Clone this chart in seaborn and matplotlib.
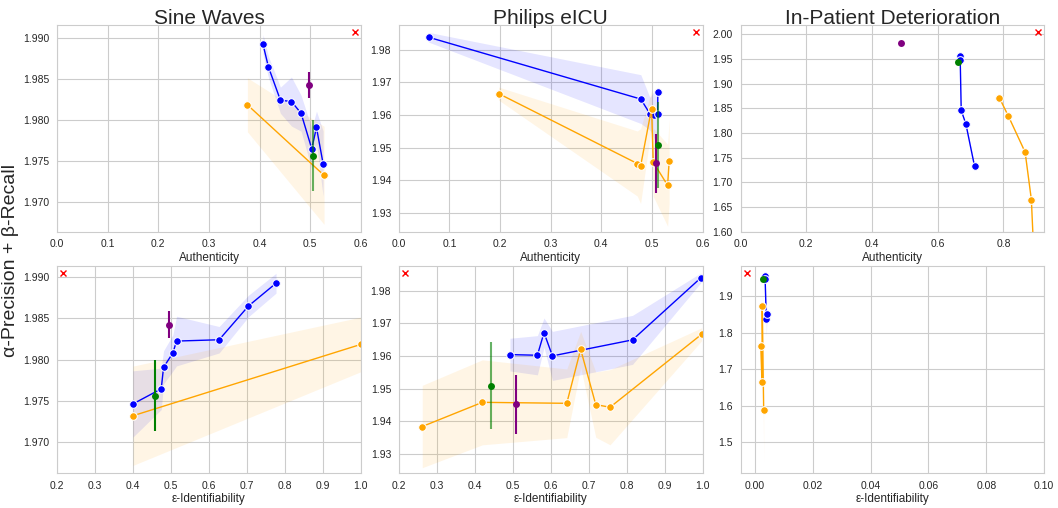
import numpy as np
import seaborn as sns
import matplotlib as mpl
import matplotlib.pyplot as plt

# ---- Sine Waves ----
sine_a_score = [1.98922, 1.98646, 1.98239, 1.98223, 1.98080, 1.97646, 1.97906, 1.97464]
sine_a_auth = [0.4067, 0.4174, 0.4411, 0.4629, 0.4819, 0.5030, 0.5123, 0.5254]
sine_a_ident = [0.7766, 0.7038, 0.6267, 0.5145, 0.5049, 0.4742, 0.4803, 0.3998]
sine_a_sd = [0.0012, 0.0013, 0.0016, 0.0030, 0.0022, 0.0025, 0.0020, 0.0040]

sine_b_score = [1.98183, 1.97321]
sine_b_auth = [0.3758, 0.5273]
sine_b_ident = [1.0, 0.3998]
sine_b_sd = [0.0033, 0.0060]

sine_green = dict(auth=0.5049, ident=0.4584, score=1.97562, err=0.0043)
sine_purple = dict(auth=0.4982, ident=0.4934, score=1.98422, err=0.0016)

# ---- Philips eICU ----
ph_a_score = [1.9839, 1.9649, 1.9604, 1.9600, 1.9602, 1.9671]
ph_a_auth = [0.059, 0.478, 0.496, 0.505, 0.5112, 0.5117]
ph_a_ident = [0.9957, 0.8155, 0.4927, 0.6046, 0.5650, 0.5824]
ph_a_sd = [0.0015, 0.0075, 0.0050, 0.0075, 0.0060, 0.0045]

ph_b_score = [1.9666, 1.9451, 1.9443, 1.9620, 1.9455, 1.9384, 1.9458]
ph_b_auth = [0.197, 0.471, 0.4776, 0.4993, 0.5026, 0.531, 0.534]
ph_b_ident = [0.9974, 0.7187, 0.7564, 0.679, 0.6423, 0.2617, 0.420]
ph_b_sd = [0.0020, 0.0100, 0.0115, 0.0055, 0.0105, 0.0126, 0.0130]

ph_green = dict(auth=0.5117, ident=0.4418, score=1.9509, err=0.0132)
ph_purple = dict(auth=0.5084, ident=0.5085, score=1.9452, err=0.0091)

# ---- In-Patient Deterioration ----
ip_a_score = [1.9562, 1.9482, 1.8459, 1.8183, 1.7331]
ip_a_auth = [0.6663, 0.6684, 0.6714, 0.6856, 0.7119]
ip_a_sd = [0.002, 0.002, 0.002, 0.002, 0.002]
ip_a_id_score = [1.956, 1.948, 1.850, 1.836]
ip_a_ident = [0.0034, 0.0036, 0.0043, 0.0040]
ip_a_id_sd = [0.004, 0.004, 0.004, 0.045]

ip_b_score = [1.8709, 1.8339, 1.7613, 1.6653, 1.588]
ip_b_auth = [0.7878, 0.8152, 0.8658, 0.8848, 0.890]
ip_b_sd = [0.002, 0.002, 0.002, 0.002, 0.002]
ip_b_id_score = [1.872, 1.763, 1.666, 1.588]
ip_b_ident = [0.0026, 0.0021, 0.0025, 0.0031]
ip_b_id_sd = [0.004, 0.004, 0.004, 0.145]

ip_green = dict(auth=0.6602, ident=0.0028, score=1.9435, id_score=1.946, err=0.002)
ip_purple = dict(auth=0.4891, score=1.9818, err=0.002)

titles = ['Sine Waves', 'Philips eICU', 'In-Patient Deterioration']


def draw_series(ax, x, y, sd, color):
    x, y, sd = np.asarray(x, float), np.asarray(y, float), np.asarray(sd, float)
    order = np.lexsort((y, x))
    x, y, sd = x[order], y[order], sd[order]
    ax.fill_between(x, y - sd, y + sd, color=color, alpha=0.1, linewidth=0)
    sns.lineplot(x=x, y=y, ax=ax, color=color, marker='o', markersize=5.5,
                 linewidth=1, estimator=None, sort=False)


def draw_point(ax, x, y, err, color, bar_alpha):
    ax.errorbar([x], [y], yerr=[err], fmt='o', color=color, ms=5, mew=0,
                elinewidth=1.5, ecolor=mpl.colors.to_rgba(color, bar_alpha), zorder=4)


def mark_ideal(ax, xfrac):
    ax.plot(xfrac, 0.965, 'x', color='red', ms=5, mew=1, transform=ax.transAxes, zorder=5)


def main():
    sns.set_style('whitegrid')
    plt.rcParams['font.family'] = ['Liberation Sans', 'DejaVu Sans']

    fig, axes = plt.subplots(2, 3, figsize=(10.58, 5.08), dpi=100)
    fig.subplots_adjust(left=0.054, right=0.987, top=0.951, bottom=0.069,
                        wspace=0.125, hspace=0.165)

    # top row: authenticity
    ax = axes[0, 0]
    draw_series(ax, sine_a_auth, sine_a_score, sine_a_sd, 'blue')
    draw_series(ax, sine_b_auth, sine_b_score, sine_b_sd, 'orange')
    draw_point(ax, sine_green['auth'], sine_green['score'], sine_green['err'], 'green', 0.6)
    draw_point(ax, sine_purple['auth'], sine_purple['score'], sine_purple['err'], 'purple', 1.0)
    ax.set_xlim(0, 0.6)
    ax.set_ylim(1.9663, 1.9916)

    ax = axes[0, 1]
    draw_series(ax, ph_a_auth, ph_a_score, ph_a_sd, 'blue')
    draw_series(ax, ph_b_auth, ph_b_score, ph_b_sd, 'orange')
    draw_point(ax, ph_green['auth'], ph_green['score'], ph_green['err'], 'green', 0.6)
    draw_point(ax, ph_purple['auth'], ph_purple['score'], ph_purple['err'], 'purple', 1.0)
    ax.set_xlim(0, 0.6)
    ax.set_ylim(1.9241, 1.9877)

    ax = axes[0, 2]
    draw_series(ax, ip_a_auth, ip_a_score, ip_a_sd, 'blue')
    draw_series(ax, ip_b_auth, ip_b_score, ip_b_sd, 'orange')
    draw_point(ax, ip_green['auth'], ip_green['score'], ip_green['err'], 'green', 0.6)
    draw_point(ax, ip_purple['auth'], ip_purple['score'], ip_purple['err'], 'purple', 1.0)
    ax.set_xlim(0, 0.924)
    ax.set_ylim(1.60, 2.019)

    # bottom row: identifiability
    ax = axes[1, 0]
    draw_series(ax, sine_a_ident, sine_a_score, sine_a_sd, 'blue')
    draw_series(ax, sine_b_ident, sine_b_score, sine_b_sd, 'orange')
    draw_point(ax, sine_green['ident'], sine_green['score'], sine_green['err'], 'green', 1.0)
    draw_point(ax, sine_purple['ident'], sine_purple['score'], sine_purple['err'], 'purple', 1.0)
    ax.set_xlim(0.2, 1.0)
    ax.set_ylim(1.9663, 1.9913)

    ax = axes[1, 1]
    draw_series(ax, ph_a_ident, ph_a_score, ph_a_sd, 'blue')
    draw_series(ax, ph_b_ident, ph_b_score, ph_b_sd, 'orange')
    draw_point(ax, ph_green['ident'], ph_green['score'], ph_green['err'], 'green', 0.6)
    draw_point(ax, ph_purple['ident'], ph_purple['score'], ph_purple['err'], 'purple', 1.0)
    ax.set_xlim(0.2, 1.0)
    ax.set_ylim(1.9242, 1.9875)

    ax = axes[1, 2]
    draw_series(ax, ip_a_ident, ip_a_id_score, ip_a_id_sd, 'blue')
    draw_series(ax, ip_b_ident, ip_b_id_score, ip_b_id_sd, 'orange')
    draw_point(ax, ip_green['ident'], ip_green['id_score'], ip_green['err'], 'green', 0.6)
    ax.set_xlim(-0.0049, 0.10)
    ax.set_ylim(1.4157, 1.9824)

    for j, title in enumerate(titles):
        axes[0, j].set_title(title, fontsize=15, pad=1)
        axes[0, j].set_xlabel('Authenticity', fontsize=8.5, labelpad=1.5)
        axes[1, j].set_xlabel('ε-Identifiability', fontsize=8.5, labelpad=1.5)
        mark_ideal(axes[0, j], 0.98)
        mark_ideal(axes[1, j], 0.02)

    for ax in axes.flat:
        ax.set_ylabel('')
        ax.tick_params(labelsize=7.5, pad=2)
        ax.ticklabel_format(axis='y', useOffset=False)

    fig.text(0.0095, 0.488, 'α-Precision + β-Recall', rotation=90,
             ha='center', va='center', fontsize=14)

    fig.savefig('out.png', dpi=100)


if __name__ == '__main__':
    main()
